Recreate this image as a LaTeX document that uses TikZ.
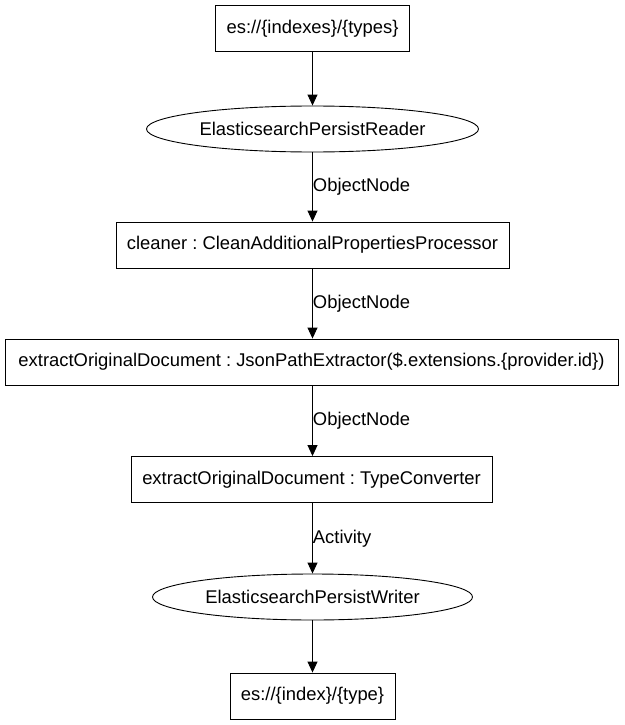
\documentclass[tikz,border=0pt]{standalone}
\usepackage{fontspec}
\setmainfont{Liberation Sans}
\usetikzlibrary{shapes.geometric,arrows.meta}
\frenchspacing
\begin{document}
\begin{tikzpicture}[x=1pt,y=-1pt,
  font=\fontsize{18.4}{21}\selectfont,
  boxnode/.style={draw,line width=0.9pt,rectangle,inner sep=0pt,minimum height=46pt},
  ellnode/.style={draw,line width=0.9pt,ellipse,inner sep=0pt,minimum height=46pt},
  flow/.style={draw,line width=0.9pt,-{Triangle[length=11pt,width=10pt]}},
  lbl/.style={right,inner sep=0pt,xshift=0pt}]
\useasboundingbox (0,0) rectangle (624,725);
\node[boxnode,minimum width=194pt] (src) at (312.5,28.5) {es://\{indexes\}/\{types\}};
\node[ellnode,minimum width=332pt] (reader) at (312.5,129) {ElasticsearchPersistReader};
\node[boxnode,minimum width=393pt] (cleaner) at (312.5,245) {cleaner : CleanAdditionalPropertiesProcessor};
\node[boxnode,minimum width=613pt] (json) at (311.5,362) {extractOriginalDocument : JsonPathExtractor(\$.extensions.\{provider.id\})};
\node[boxnode,minimum width=361pt] (conv) at (311.5,479.5) {extractOriginalDocument : TypeConverter};
\node[ellnode,minimum width=320pt] (writer) at (312.5,597) {ElasticsearchPersistWriter};
\node[boxnode,minimum width=165pt] (dst) at (312.5,696) {es://\{index\}/\{type\}};
\draw[flow] (src.south -| 312.5,0) -- (reader.north -| 312.5,0);
\draw[flow] (reader.south -| 312.5,0) -- node[lbl] {ObjectNode} (cleaner.north -| 312.5,0);
\draw[flow] (cleaner.south -| 312.5,0) -- node[lbl] {ObjectNode} (json.north -| 312.5,0);
\draw[flow] (json.south -| 312.5,0) -- node[lbl] {ObjectNode} (conv.north -| 312.5,0);
\draw[flow] (conv.south -| 312.5,0) -- node[lbl] {Activity} (writer.north -| 312.5,0);
\draw[flow] (writer.south -| 312.5,0) -- (dst.north -| 312.5,0);
\end{tikzpicture}
\end{document}
